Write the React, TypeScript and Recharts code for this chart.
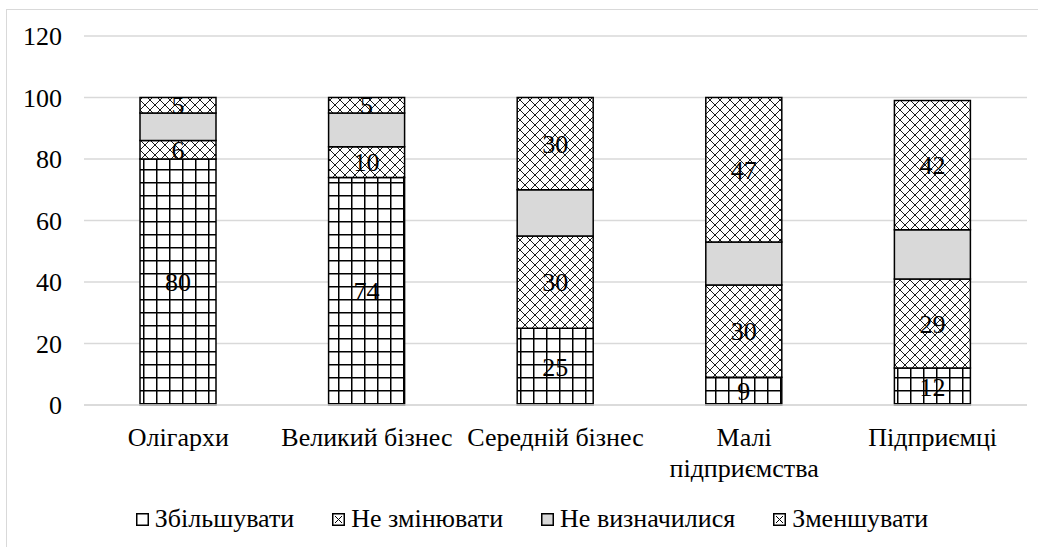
import { Bar, BarChart, CartesianGrid, LabelList, Legend, XAxis, YAxis } from "recharts";

const categories = ["Олігархи", "Великий бізнес", "Середній бізнес", "Малі\nпідприємства", "Підприємці"];
const increase = [80, 74, 25, 9, 12];
const noChange = [6, 10, 30, 30, 29];
const undecided = [9, 11, 15, 14, 16];
const decrease = [5, 5, 30, 47, 42];
const yTicks = [0, 20, 40, 60, 80, 100, 120];

const seriesNames = ["Збільшувати", "Не змінювати", "Не визначилися", "Зменшувати"];

const data = categories.map((name, i) => ({
  name,
  increase: increase[i],
  noChange: noChange[i],
  undecided: undecided[i],
  decrease: decrease[i],
}));

const FONT = "'Times New Roman', Tinos, 'Liberation Serif', 'DejaVu Serif', 'Noto Serif', 'Nimbus Roman', FreeSerif, serif";
const FS = 26;
const GRID = "#d9d9d9";

function CategoryTick(props: any) {
  const { x, y, payload } = props;
  const lines = String(payload.value).split("\n");
  return (
    <text x={x} y={y} textAnchor="middle" fill="#000" fontFamily={FONT} fontSize={FS}>
      {lines.map((line, i) => (
        <tspan key={i} x={x} dy={i === 0 ? "0.71em" : 31}>
          {line}
        </tspan>
      ))}
    </text>
  );
}

function Swatch({ kind }: { kind: string }) {
  return (
    <svg width={13} height={13} style={{ display: "block" }}>
      <rect x={0.75} y={0.75} width={11.5} height={11.5} fill={kind === "gray" ? "#d9d9d9" : "#fff"} stroke="#000" strokeWidth={1.5} />
      {kind === "cross" && <path d="M3 3 L10 10 M10 3 L3 10" stroke="#000" strokeWidth={1} />}
    </svg>
  );
}

const swatchKinds = ["plain", "cross", "gray", "cross"];

function LegendContent() {
  return (
    <div style={{ display: "flex", justifyContent: "center", gap: 38, paddingLeft: 26, fontFamily: FONT, fontSize: FS, color: "#000" }}>
      {seriesNames.map((n, i) => (
        <div key={n} style={{ display: "flex", alignItems: "center", gap: 6 }}>
          <Swatch kind={swatchKinds[i]} />
          <span style={{ lineHeight: "30px" }}>{n}</span>
        </div>
      ))}
    </div>
  );
}

const labelStyle = { fill: "#000", fontSize: FS, fontFamily: FONT };

export default function App() {
  return (
    <div style={{ position: "relative", width: 1038, height: 547, overflow: "hidden", background: "#fff", fontFamily: FONT }}>
      <style>{`body{margin:0}`}</style>
      <div style={{ position: "absolute", left: 6, top: 9, width: 1100, height: 600, border: `1px solid ${GRID}`, boxSizing: "border-box" }} />
      <div style={{ position: "absolute", left: 0, top: 0 }}>
        <BarChart width={1038} height={547} data={data} margin={{ top: 36, right: 11, left: 0, bottom: 82 }} barSize={76}>
          <defs>
            <pattern id="gridFill" width="13" height="13" patternUnits="userSpaceOnUse">
              <rect width="13" height="13" fill="#fff" />
              <path d="M0 0.75 H13 M0.75 0 V13" stroke="#000" strokeWidth={1.5} />
            </pattern>
            <pattern id="crossFill" width="10" height="10" patternUnits="userSpaceOnUse">
              <rect width="10" height="10" fill="#fff" />
              <path d="M0 0 L10 10 M10 0 L0 10" stroke="#000" strokeWidth={0.9} />
            </pattern>
          </defs>
          <CartesianGrid horizontal vertical={false} stroke={GRID} strokeWidth={1.5} />
          <XAxis
            dataKey="name"
            height={60}
            axisLine={{ stroke: GRID, strokeWidth: 1.5 }}
            tickLine={false}
            tickMargin={17}
            interval={0}
            tick={<CategoryTick />}
          />
          <YAxis
            width={84}
            domain={[0, 120]}
            ticks={yTicks}
            axisLine={false}
            tickLine={false}
            tickMargin={16}
            tick={{ fill: "#000", fontSize: FS, fontFamily: FONT }}
          />
          <Legend
            verticalAlign="middle"
            layout="horizontal"
            content={<LegendContent />}
            wrapperStyle={{ top: 504, left: 0, width: 1038, height: 32 }}
          />
          <Bar dataKey="increase" name={seriesNames[0]} stackId="a" fill="url(#gridFill)" stroke="#000" strokeWidth={1.5} isAnimationActive={false}>
            <LabelList dataKey="increase" position="center" style={labelStyle} />
          </Bar>
          <Bar dataKey="noChange" name={seriesNames[1]} stackId="a" fill="url(#crossFill)" stroke="#000" strokeWidth={1.5} isAnimationActive={false}>
            <LabelList dataKey="noChange" position="center" style={labelStyle} />
          </Bar>
          <Bar dataKey="undecided" name={seriesNames[2]} stackId="a" fill="#d9d9d9" stroke="#000" strokeWidth={1.5} isAnimationActive={false} />
          <Bar dataKey="decrease" name={seriesNames[3]} stackId="a" fill="url(#crossFill)" stroke="#000" strokeWidth={1.5} isAnimationActive={false}>
            <LabelList dataKey="decrease" position="center" style={labelStyle} />
          </Bar>
        </BarChart>
      </div>
    </div>
  );
}
